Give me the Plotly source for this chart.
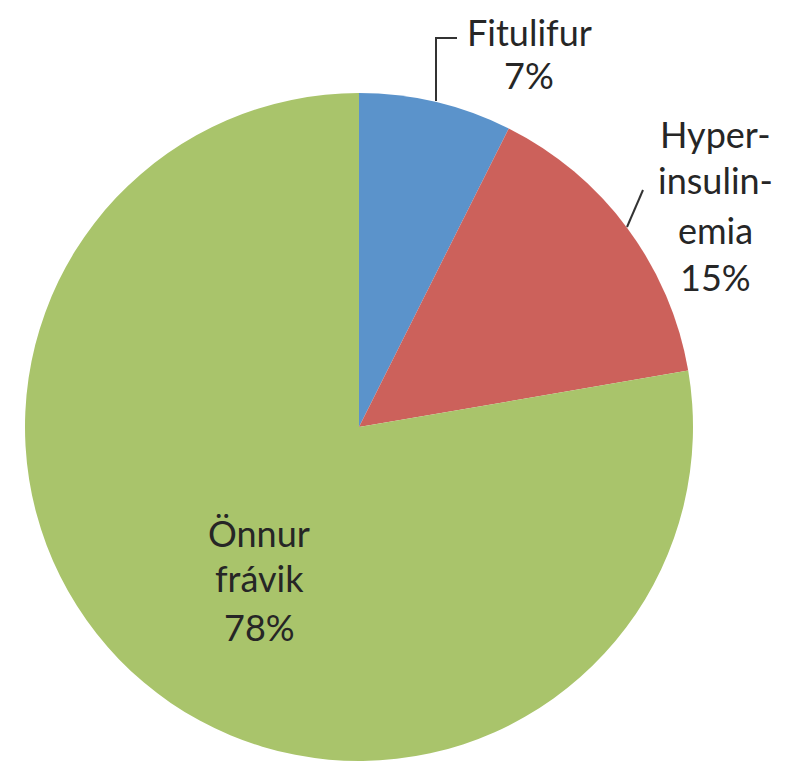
import plotly.graph_objects as go

labels = ["Fitulifur", "Hyperinsulinemia", "Önnur frávik"]
label_lines = [["Fitulifur"], ["Hyper-", "insulin-", "emia"], ["Önnur", "frávik"]]
values = [7.4, 14.9, 77.7]
colors = ["#5B93CB", "#CC615B", "#A9C46B"]

W, H = 796, 764
OFF = 8  # default page body margin
cx, cy, r = 359, 427, 334


def px(x):
    return (x - OFF) / W


def py(y):
    return 1 - (y - OFF) / H


fig = go.Figure(go.Pie(
    labels=labels, values=values, sort=False, direction="clockwise", rotation=0,
    marker=dict(colors=colors, line=dict(width=0)),
    textinfo="none", hoverinfo="label+percent", showlegend=False,
    domain=dict(x=[px(cx - r), px(cx + r)], y=[py(cy + r), py(cy - r)]),
))

total = sum(values)
pcts = [f"{round(v / total * 100)}%" for v in values]

# label positions (pixel centres of each text line)
label_pos = [
    (529, [32, 75]),
    (715, [134, 180, 230, 276.5]),
    (259, [532.5, 578, 626.5]),
]
annotations = []
for lines, pct, (x, ys) in zip(label_lines, pcts, label_pos):
    for txt, y in zip(lines + [pct], ys):
        annotations.append(dict(
            x=px(x), y=py(y), xref="paper", yref="paper", text=txt,
            showarrow=False, xanchor="center", yanchor="middle",
            font=dict(family="Lato", size=36, color="#262626"),
        ))

shapes = [
    dict(type="path", xref="paper", yref="paper",
         path=f"M {px(436)} {py(101)} L {px(436)} {py(38)} L {px(457)} {py(38)}",
         line=dict(color="#333333", width=2)),
    dict(type="line", xref="paper", yref="paper",
         x0=px(627), y0=py(227), x1=px(643), y1=py(190),
         line=dict(color="#333333", width=2)),
]

fig.update_layout(
    width=W, height=H, margin=dict(l=0, r=0, t=0, b=0),
    paper_bgcolor="white", plot_bgcolor="white",
    annotations=annotations, shapes=shapes,
)
fig.write_html("out.html")
